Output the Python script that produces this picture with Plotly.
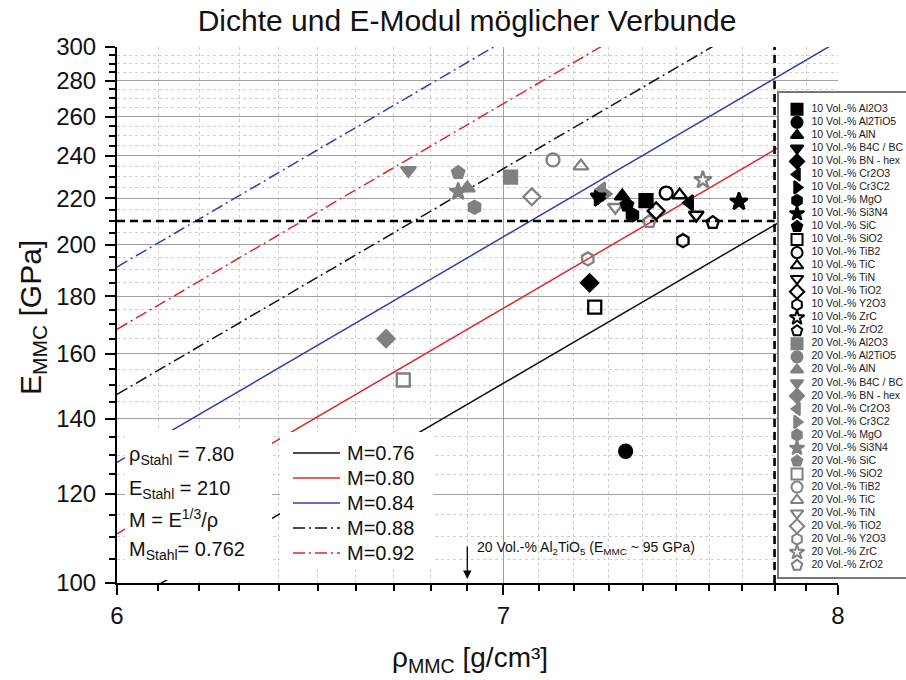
import math
import plotly.graph_objects as go

# ---- material data: density [g/cm³] and Young's modulus [GPa] of the composites ----
materials = ["Al2O3", "Al2TiO5", "AlN", "B4C / BC", "BN - hex", "Cr2O3", "Cr3C2", "MgO",
             "Si3N4", "SiC", "SiO2", "TiB2", "TiC", "TiN", "TiO2", "Y2O3", "ZrC", "ZrO2"]
symbols = ["square", "circle", "triangle-up", "triangle-down", "diamond", "triangle-left",
           "triangle-right", "hexagon", "star", "pentagon", "square-open", "circle-open",
           "triangle-up-open", "triangle-down-open", "diamond-open", "hexagon-open",
           "star-open", "pentagon-open"]

rho_10 = [7.41, 7.35, 7.34, 7.27, 7.245, 7.54, 7.27, 7.37, 7.69, 7.354, 7.26, 7.47,
          7.51, 7.56, 7.44, 7.52, 7.69, 7.61]
E_10 = [219, 131, 221, 220.6, 185, 218, 220, 212.6, 218.5, 217, 176, 222.4,
        221.5, 212.6, 214.4, 201.7, 218.5, 209.3]

rho_20 = [7.02, 6.90, 6.90, 6.74, 6.68, 7.28, 7.29, 6.92, 6.875, 6.875, 6.726, 7.14,
          7.22, 7.32, 7.08, 7.24, 7.58, 7.42]
E_20 = [229.8, 95, 224.7, 233, 165, 223.8, 222, 216, 223, 231.9, 151.6, 238,
        235, 216, 220.7, 194.3, 228.4, 209.7]

# ---- iso-lines of the lightweight index M = E^(1/3) / rho ----
M_values = [0.76, 0.80, 0.84, 0.88, 0.92, 0.96]
M_colors = ["#111111", "#e3262b", "#3140a8", "#111111", "#e3262b", "#3140a8"]
M_dashes = ["solid", "solid", "solid", "12px,4px,2px,4px", "12px,4px,2px,4px", "12px,4px,2px,4px"]
M_legend = [True, True, True, True, True, False]

# steel reference
rho_stahl = 7.80
E_stahl = 210
M_stahl = 0.762

rho_range = [6.0, 8.0]
E_range = [100, 300]
x_ticks = [6, 7, 8]
y_ticks = list(range(100, 301, 20))

FONT = "Liberation Sans, Arial, sans-serif"
GRAY = "#808080"

fig = go.Figure()

# iso-M lines (straight in log-log space)
for M, c, d in zip(M_values, M_colors, M_dashes):
    fig.add_trace(go.Scatter(
        x=rho_range, y=[(M * r) ** 3 for r in rho_range], mode="lines",
        line=dict(color=c, width=1.5, dash=d), showlegend=False, hoverinfo="skip"))

# steel reference lines
fig.add_trace(go.Scatter(x=[rho_range[0], rho_stahl], y=[E_stahl, E_stahl], mode="lines",
                         line=dict(color="black", width=2.6, dash="8px,5px"),
                         showlegend=False, hoverinfo="skip"))
fig.add_trace(go.Scatter(x=[rho_stahl, rho_stahl], y=E_range, mode="lines",
                         line=dict(color="black", width=2.6, dash="8px,5px"),
                         showlegend=False, hoverinfo="skip"))


def marker(sym, color, size):
    return dict(symbol=sym, size=size, color=color, line=dict(color=color, width=2.3))


# composite points: 20 vol.-% (gray) first, 10 vol.-% (black) on top
for i, mat in enumerate(materials):
    fig.add_trace(go.Scatter(x=[rho_20[i]], y=[E_20[i]], mode="markers",
                             marker=marker(symbols[i], GRAY, 13),
                             name="20 Vol.-% " + mat, showlegend=False))
for i, mat in enumerate(materials):
    fig.add_trace(go.Scatter(x=[rho_10[i]], y=[E_10[i]], mode="markers",
                             marker=marker(symbols[i], "black", 13),
                             name="10 Vol.-% " + mat, showlegend=False))

# symbol key on the right (inset axes with white background)
key_labels = ["10 Vol.-% " + m for m in materials] + ["20 Vol.-% " + m for m in materials]
key_symbols = symbols + symbols
key_colors = ["black"] * len(materials) + [GRAY] * len(materials)
key_idx = list(range(len(key_labels)))
fig.add_trace(go.Scatter(
    x=[0.142] * len(key_idx), y=key_idx, mode="markers", xaxis="x2", yaxis="y2",
    marker=dict(symbol=key_symbols, size=11, color=key_colors,
                line=dict(color=key_colors, width=2)),
    showlegend=False, hoverinfo="skip"))
fig.add_trace(go.Scatter(
    x=[0.255] * len(key_idx), y=key_idx, mode="text", text=key_labels,
    textposition="middle right", xaxis="x2", yaxis="y2",
    textfont=dict(family=FONT, size=10.5, color="#1a1a1a"),
    showlegend=False, hoverinfo="skip"))

W, H = 906, 680
L, R, T, B = 117, 0, 47, 97
pw, ph = W - L - R, H - T - B


def px(xp):
    return (xp - L) / pw


def py(yp):
    return (H - B - yp) / ph


axis_common = dict(
    type="log", showline=True, linecolor="black", linewidth=2, ticks="outside",
    ticklen=10, tickwidth=2, tickcolor="black", tickfont=dict(family=FONT, size=24, color="#111"),
    showgrid=True, gridcolor="#a0a0a0", gridwidth=1, zeroline=False, mirror=False,
    automargin=False,
)

x_minor = [round(6 + 0.1 * k, 1) for k in range(1, 20) if k != 10]
y_minor = [v for v in range(105, 300, 5) if v % 20 != 0]

fig.update_layout(
    width=W, height=H, margin=dict(l=L, r=R, t=T, b=B, autoexpand=False),
    plot_bgcolor="white", paper_bgcolor="white",
    font=dict(family=FONT, color="#111"),
    title=dict(text="Dichte und E-Modul möglicher Verbunde", x=467 / W, xref="container",
               xanchor="center", y=1 - 20 / H, yanchor="middle", automargin=False,
               font=dict(family=FONT, size=30, color="#111")),
    xaxis=dict(axis_common, range=[math.log10(rho_range[0]), math.log10(rho_range[1])],
               domain=[0, (838 - L) / pw], tickvals=x_ticks, ticktext=[str(v) for v in x_ticks],
               anchor="y",
               minor=dict(tickvals=x_minor, ticks="outside", ticklen=6, tickwidth=1.5,
                          tickcolor="black", showgrid=True, gridcolor="#cfcfcf",
                          griddash="dot", gridwidth=1)),
    yaxis=dict(axis_common, range=[math.log10(E_range[0]), math.log10(E_range[1])],
               domain=[0, 1], tickvals=y_ticks, ticktext=[str(v) for v in y_ticks],
               anchor="x", ticklabelstandoff=4,
               minor=dict(tickvals=y_minor, ticks="outside", ticklen=6, tickwidth=1.5,
                          tickcolor="black", showgrid=True, gridcolor="#cfcfcf",
                          griddash="dot", gridwidth=1)),
    xaxis2=dict(domain=[px(779), 1.0], range=[0, 1], anchor="y2", showgrid=False,
                zeroline=False, showticklabels=False, ticks="", showline=True,
                linecolor="#777", linewidth=1.5, mirror=True, fixedrange=True,
                automargin=False),
    yaxis2=dict(domain=[py(577), py(93)], range=[35.9, -1.25], anchor="x2", showgrid=False,
                zeroline=False, showticklabels=False, ticks="", showline=True,
                linecolor="#777", linewidth=1.5, mirror=True, fixedrange=True,
                automargin=False),
)

shapes = [
    dict(type="rect", xref="paper", yref="paper", x0=px(125), x1=px(272), y0=py(580), y1=py(430),
         fillcolor="white", line=dict(width=0), layer="above"),
    dict(type="rect", xref="paper", yref="paper", x0=px(280), x1=px(433), y0=py(568), y1=py(432),
         fillcolor="white", line=dict(width=0), layer="above"),
]

annotations = []
# line key
key_rows = [453, 478, 503, 528, 553]
k = 0
for M, c, d, show in zip(M_values, M_colors, M_dashes, M_legend):
    if not show:
        continue
    yk = py(key_rows[k])
    shapes.append(dict(type="line", xref="paper", yref="paper", x0=px(293), x1=px(340),
                       y0=yk, y1=yk, line=dict(color=c, width=1.5, dash=d), layer="above"))
    annotations.append(dict(text=f"M={M:.2f}", xref="paper", yref="paper", x=px(345), y=yk,
                            xanchor="left", yanchor="middle", showarrow=False,
                            font=dict(family=FONT, size=20, color="#111")))
    k += 1

# steel properties
steel_lines = [
    (f"ρ<sub>Stahl</sub> = {rho_stahl:.2f}", 455),
    (f"E<sub>Stahl</sub> = {E_stahl}", 489),
    ("M = E<sup>1/3</sup>/ρ", 518),
    (f"M<sub>Stahl</sub>= {M_stahl:.3f}", 550),
]
for txt, yp in steel_lines:
    annotations.append(dict(text=txt, xref="paper", yref="paper", x=px(127), y=py(yp),
                            xanchor="left", yanchor="middle", showarrow=False,
                            font=dict(family=FONT, size=20, color="#111")))

# axis titles
annotations.append(dict(text="E<sub>MMC</sub> [GPa]", xref="paper", yref="paper",
                        x=px(32), y=py(318), textangle=-90, showarrow=False,
                        xanchor="center", yanchor="middle",
                        font=dict(family=FONT, size=30, color="#111")))
annotations.append(dict(text="ρ<sub>MMC</sub> [g/cm³]", xref="paper", yref="paper",
                        x=px(470), y=py(660), showarrow=False,
                        xanchor="center", yanchor="middle",
                        font=dict(family=FONT, size=28, color="#111")))

# off-scale point: 20 vol.-% Al2TiO5
i_off = materials.index("Al2TiO5")
annotations.append(dict(text="", x=math.log10(rho_20[i_off]), xref="x", y=py(579), yref="paper",
                        showarrow=True, ax=0, ay=-34, arrowhead=2, arrowsize=1.3,
                        arrowwidth=1.3, arrowcolor="black", standoff=0))
annotations.append(dict(text=f"20 Vol.-% Al<sub>2</sub>TiO<sub>5</sub> (E<sub>MMC</sub> ~ {E_20[i_off]:.0f} GPa)",
                        xref="paper", yref="paper", x=px(475), y=py(548), xanchor="left",
                        yanchor="middle", showarrow=False,
                        font=dict(family=FONT, size=14, color="#111")))

fig.update_layout(shapes=shapes, annotations=annotations)

fig.write_html("out.html")
